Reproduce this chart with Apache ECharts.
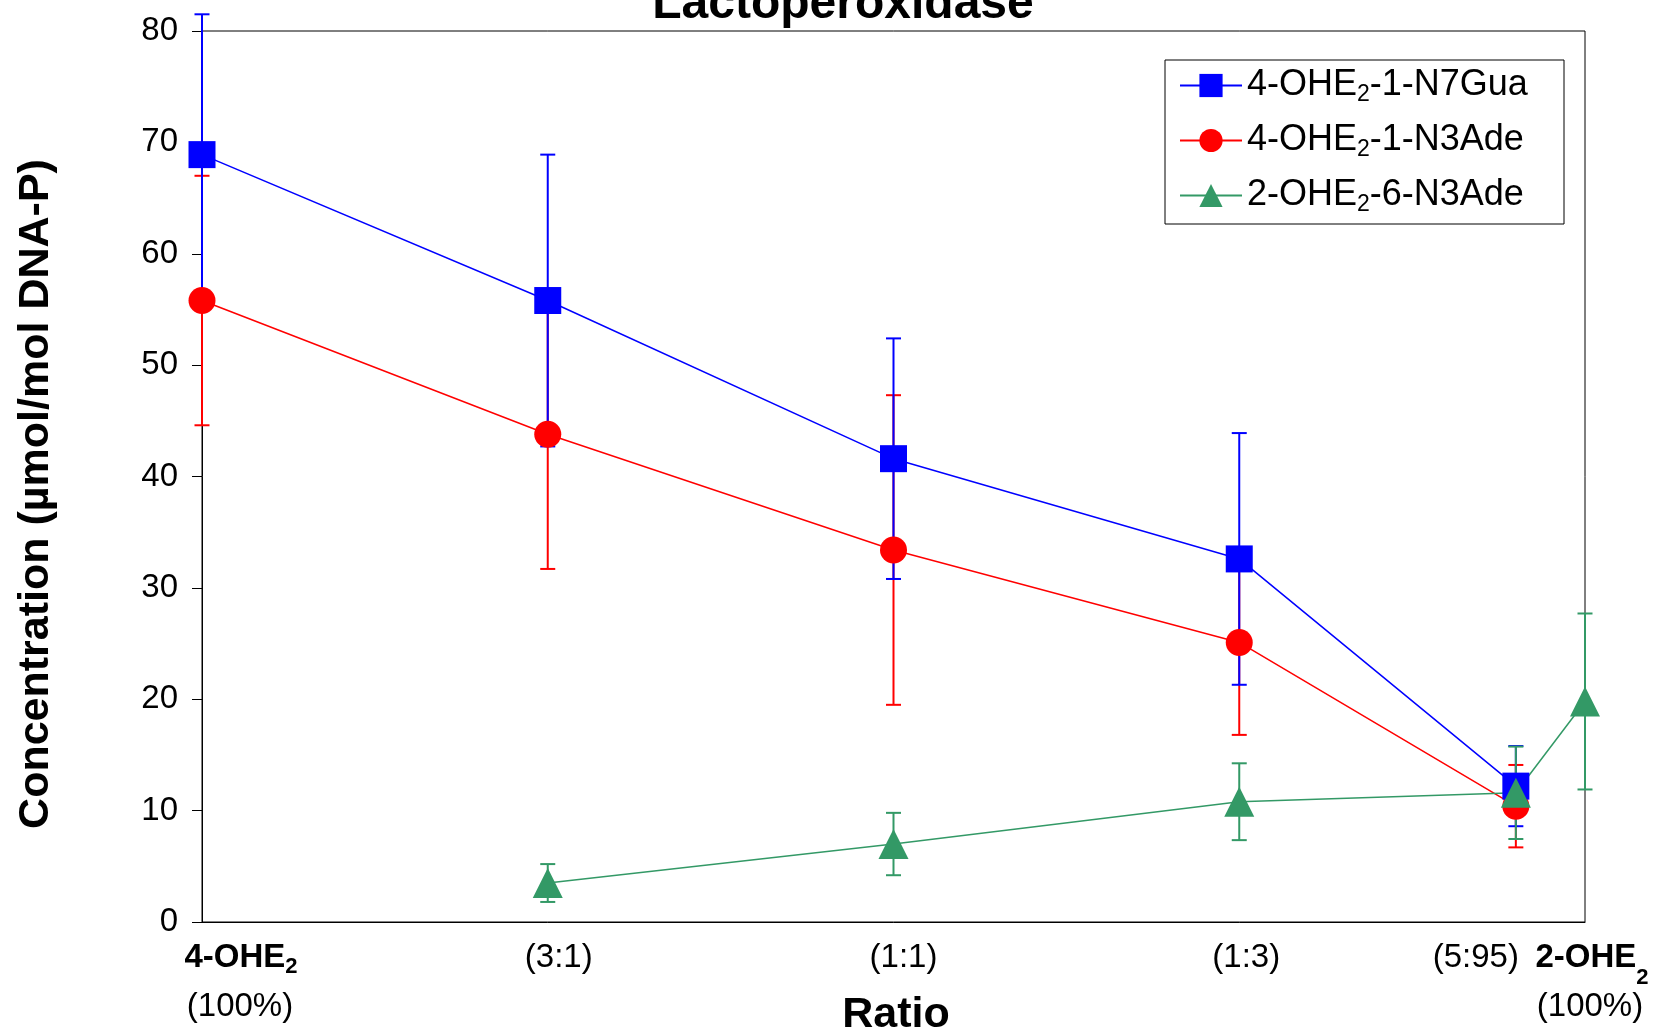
<!DOCTYPE html>
<html>
<head>
<meta charset="utf-8">
<script src="https://cdn.jsdelivr.net/npm/echarts@6/dist/echarts.min.js"></script>
<style>
html, body { margin: 0; padding: 0; background: #fff; }
#chart { width: 1653px; height: 1034px; }
</style>
</head>
<body>
<div id="chart"></div>
<script>
// ratio positions along the x axis (4-OHE2 100% ... 2-OHE2 100%)
var ratioX = [0, 1, 2, 3, 3.8, 4];
var xLabelTop = ['{b|4-OHE}{bs|2}', '(3:1)', '(1:1)', '(1:3)', '(5:95)', '{b|2-OHE}{bs2|2}'];
var xLabelBottom = ['(100%)', '', '', '', '', '(100%)'];

var seriesNames = ['4-OHE2-1-N7Gua', '4-OHE2-1-N3Ade', '2-OHE2-6-N3Ade'];

// 4-OHE2-1-N7Gua (first five ratios)
var n7Gua = [68.9, 55.8, 41.6, 32.6, 12.2];
var n7GuaErr = [12.6, 13.1, 10.8, 11.3, 3.6];
// 4-OHE2-1-N3Ade (first five ratios)
var n3Ade4 = [55.8, 43.8, 33.4, 25.1, 10.4];
var n3Ade4Err = [11.2, 12.1, 13.9, 8.3, 3.7];
// 2-OHE2-6-N3Ade (last five ratios)
var n3Ade2 = [3.5, 7.0, 10.8, 11.6, 19.8];
var n3Ade2Err = [1.7, 2.8, 3.45, 4.15, 7.9];

var yMin = 0, yMax = 80, yStep = 10;

var FONT = '"Liberation Sans", Arial, sans-serif';

function pairs(xs, ys) {
    return ys.map(function (v, i) { return [xs[i], v]; });
}
function triples(xs, ys, es) {
    return ys.map(function (v, i) { return [xs[i], v, es[i]]; });
}

function errorBars(color) {
    return function (params, api) {
        var x = api.value(0), m = api.value(1), e = api.value(2);
        var top = api.coord([x, m + e]);
        var bot = api.coord([x, m - e]);
        var w = 7.5;
        var st = { stroke: color, lineWidth: 2 };
        return {
            type: 'group',
            children: [
                { type: 'line', shape: { x1: top[0], y1: top[1], x2: bot[0], y2: bot[1] }, style: st },
                { type: 'line', shape: { x1: top[0] - w, y1: top[1], x2: top[0] + w, y2: top[1] }, style: st },
                { type: 'line', shape: { x1: bot[0] - w, y1: bot[1], x2: bot[0] + w, y2: bot[1] }, style: st }
            ]
        };
    };
}

function lineSeries(name, data, color, symbol, size) {
    return {
        name: name,
        type: 'line',
        data: data,
        symbol: symbol,
        symbolSize: size,
        clip: false,
        lineStyle: { color: color, width: 1.5 },
        itemStyle: { color: color },
        emphasis: { disabled: true }
    };
}

function errSeries(data, color) {
    return {
        type: 'custom',
        data: data,
        encode: { x: 0, y: 1 },
        renderItem: errorBars(color),
        silent: true
    };
}

var blueX = ratioX.slice(0, 5);
var greenX = ratioX.slice(1);

var option = {
    animation: false,
    backgroundColor: '#fff',
    textStyle: { fontFamily: FONT },
    grid: {
        left: 202, right: 68, top: 31, bottom: 112,
        show: true, borderColor: '#000', borderWidth: 1,
        outerBoundsMode: 'none'
    },
    legend: {
        data: seriesNames,
        orient: 'vertical',
        left: 1165, top: 60,
        padding: [5, 25, 8, 14],
        itemGap: 14,
        itemWidth: 62,
        itemHeight: 29,
        borderColor: '#000',
        borderWidth: 1,
        backgroundColor: '#fff',
        selectedMode: false,
        formatter: function (name) { return name.replace('OHE2', 'OHE{s|2}'); },
        textStyle: {
            fontFamily: FONT, fontSize: 36, color: '#000', lineHeight: 40, width: 292,
            rich: {
                s: { fontFamily: FONT, fontSize: 23, lineHeight: 23, color: '#000', padding: [18, 0, 0, 0] }
            }
        }
    },
    xAxis: {
        type: 'value',
        min: 0, max: 4,
        axisLine: { lineStyle: { color: '#000', width: 1 } },
        axisTick: { show: false },
        axisLabel: { show: false },
        splitLine: { show: false }
    },
    yAxis: {
        type: 'value',
        min: yMin, max: yMax, interval: yStep,
        axisLine: { show: true, lineStyle: { color: '#000', width: 1 } },
        axisTick: { show: true, inside: false, length: 10, lineStyle: { color: '#000' } },
        axisLabel: { fontFamily: FONT, fontSize: 33, color: '#000', margin: 24 },
        splitLine: { show: false }
    },
    series: [
        errSeries(triples(blueX, n3Ade4, n3Ade4Err), '#ff0000'),
        lineSeries(seriesNames[1], pairs(blueX, n3Ade4), '#ff0000', 'circle', 27),
        errSeries(triples(blueX, n7Gua, n7GuaErr), '#0000ff'),
        lineSeries(seriesNames[0], pairs(blueX, n7Gua), '#0000ff', 'rect', 27),
        errSeries(triples(greenX, n3Ade2, n3Ade2Err), '#339966'),
        lineSeries(seriesNames[2], pairs(greenX, n3Ade2), '#339966', 'triangle', 30)
    ]
};

var chart = echarts.init(document.getElementById('chart'));
chart.setOption(option);

// text shifts of the category labels relative to their tick positions
var labelShift = [39, 11, 10, 7, -40, 7];
var bottomShift = [38, 0, 0, 0, 0, 5];

var graphics = [];
ratioX.forEach(function (x, i) {
    var p = chart.convertToPixel({ gridIndex: 0 }, [x, 0]);
    graphics.push({
        type: 'text',
        x: p[0] + labelShift[i],
        y: 958,
        style: {
            text: xLabelTop[i],
            fontFamily: FONT, fontSize: 33, fill: '#000',
            align: 'center', verticalAlign: 'middle', lineHeight: 40,
            rich: {
                b: { fontFamily: FONT, fontSize: 33, fontWeight: 'bold', fill: '#000', lineHeight: 40 },
                bs: { fontFamily: FONT, fontSize: 22, fontWeight: 'bold', fill: '#000', lineHeight: 22, padding: [18, 0, 0, 0] },
                bs2: { fontFamily: FONT, fontSize: 22, fontWeight: 'bold', fill: '#000', lineHeight: 22, padding: [40, 0, 0, 0] }
            }
        }
    });
    if (xLabelBottom[i]) {
        graphics.push({
            type: 'text',
            x: p[0] + bottomShift[i],
            y: 1007,
            style: {
                text: xLabelBottom[i],
                fontFamily: FONT, fontSize: 33, fill: '#000',
                align: 'center', verticalAlign: 'middle'
            }
        });
    }
});

graphics.push({
    type: 'text', x: 843, y: 5,
    style: { text: 'Lactoperoxidase', fontFamily: FONT, fontSize: 48, fontWeight: 'bold', fill: '#000', align: 'center', verticalAlign: 'middle' }
});
graphics.push({
    type: 'text', x: 896, y: 1015,
    style: { text: 'Ratio', fontFamily: FONT, fontSize: 43, fontWeight: 'bold', fill: '#000', align: 'center', verticalAlign: 'middle' }
});
graphics.push({
    type: 'text', x: 36, y: 494, rotation: Math.PI / 2,
    style: { text: 'Concentration (µmol/mol DNA-P)', fontFamily: FONT, fontSize: 43, fontWeight: 'bold', fill: '#000', align: 'center', verticalAlign: 'middle' }
});

chart.setOption({ graphic: graphics });
</script>
</body>
</html>
